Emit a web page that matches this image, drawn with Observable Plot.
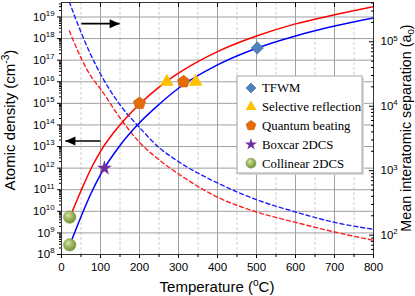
<!DOCTYPE html>
<html><head><meta charset="utf-8">
<script src="https://cdn.jsdelivr.net/npm/d3@7"></script>
<script src="https://cdn.jsdelivr.net/npm/@observablehq/plot@0.6"></script>
<style>html,body{margin:0;padding:0;background:#fff}#chart{width:415px;height:296px;overflow:hidden}</style>
</head><body><div id="chart"></div>
<script>
// ---- data ----
const temperature = [20, 50, 75, 100, 150, 200, 250, 300, 400, 500, 600, 700, 800];
const densityRed  = [4.47e9, 8.9e10, 8.9e11, 6.0e12, 1.0e14, 9.1e14, 5.6e15, 2.5e16, 2.5e17, 1.32e18, 4.8e18, 1.26e19, 3.0e19];
const densityBlue = [2.4e8, 5.6e9, 6.3e10, 5.0e11, 1.12e13, 1.26e14, 8.9e14, 5.0e15, 6.0e16, 3.55e17, 1.32e18, 3.8e18, 9.1e18];
const separationRed  = [1.48e5, 5.62e4, 2.95e4, 1.86e4, 6.6e3, 2.75e3, 1.48e3, 891, 389, 229, 158, 112, 83];
const separationBlue = [4.17e5, 1.41e5, 6.3e4, 3.16e4, 1.05e4, 4.68e3, 2.29e3, 1.38e3, 646, 355, 229, 158, 123];

const tfwmT = [502], tfwmN = [3.7e17];
const selectiveT = [270, 344], selectiveN = [1e16, 1e16];
const quantumT = [200, 313], quantumN = [1e15, 1e16];
const boxcarT = [110], boxcarN = [1e12];
const collinearT = [21, 21], collinearN = [5.4e9, 2.8e8];

const legendLabels = ["TFWM", "Selective reflection", "Quantum beating", "Boxcar 2DCS", "Collinear 2DCS"];
const titleLeft = "Atomic density (cm^{-3})";
const titleRight = "Mean interatomic separation (a_{0})";
const titleBottom = "Temperature (^{o}C)";

const xTicks = [0, 100, 200, 300, 400, 500, 600, 700, 800];
const xMinorTicks = [50, 150, 250, 350, 450, 550, 650, 750];
const leftExponents = [8, 9, 10, 11, 12, 13, 14, 15, 16, 17, 18, 19];
const rightExponents = [2, 3, 4, 5];

const yDomain = [1e8, 4.68e19];
const rightDomain = [50.1, 4.07e5];

// arrows (annotation): right-pointing (to right axis) and left-pointing (to left axis)
const arrowRight = {from: 51, to: 149, y: 4.9e18};
const arrowLeft = {from: 100, to: 10, y: 1.8e13};

// ---- helpers ----
const L0 = Math.log10(yDomain[0]), L1 = Math.log10(yDomain[1]);
const R0 = Math.log10(rightDomain[0]), R1 = Math.log10(rightDomain[1]);
const toLeft = s => 10 ** (L0 + (Math.log10(s) - R0) * (L1 - L0) / (R1 - R0));

const pentagon = {draw(ctx, size) {
  const R = Math.sqrt(size / 2.378);
  for (let k = 0; k < 5; k++) {
    const a = -Math.PI / 2 + k * 2 * Math.PI / 5;
    const px = R * Math.cos(a), py = R * Math.sin(a);
    k ? ctx.lineTo(px, py) : ctx.moveTo(px, py);
  }
  ctx.closePath();
}};
const headRight = {draw(ctx) { ctx.moveTo(0, 0); ctx.lineTo(-10, -4.5); ctx.lineTo(-10, 4.5); ctx.closePath(); }};
const headLeft = {draw(ctx) { ctx.moveTo(0, 0); ctx.lineTo(10, -4.5); ctx.lineTo(10, 4.5); ctx.closePath(); }};

const series = [
  {T: tfwmT, N: tfwmN, symbol: d3.symbolDiamond2, fill: "#4F81BD", stroke: "#3c6aa3", r: 5.6},
  {T: selectiveT, N: selectiveN, symbol: d3.symbolTriangle, fill: "#FFC000", stroke: "none", r: 5.1},
  {T: quantumT, N: quantumN, symbol: pentagon, fill: "#E36C09", stroke: "#c85e08", r: 5.6},
  {T: boxcarT, N: boxcarN, symbol: d3.symbolStar, fill: "#7030A0", stroke: "none", r: 4.7},
  {T: collinearT, N: collinearN, symbol: d3.symbolCircle, fill: "url(#greenGrad)", stroke: "#7a9540", r: 6.2}
];

const sup = n => "10^{" + n + "}";
const table = (xs, ys, f = v => v) => xs.map((t, i) => ({t, v: f(ys[i])}));

const defsMark = () => {
  const g = d3.create("svg:g");
  const defs = g.append("defs");
  const rg = defs.append("radialGradient").attr("id", "greenGrad").attr("cx", "38%").attr("cy", "35%").attr("r", "70%");
  rg.append("stop").attr("offset", "0%").attr("stop-color", "#d6e3b8");
  rg.append("stop").attr("offset", "45%").attr("stop-color", "#9fbb5e");
  rg.append("stop").attr("offset", "100%").attr("stop-color", "#718c38");
  return g.node();
};

const legendMark = () => {
  const g = d3.create("svg:g");
  const bx = 237, by = 76, bw = 125, bh = 97;
  g.append("rect").attr("x", bx + 2).attr("y", by + 2).attr("width", bw).attr("height", bh).attr("fill", "#d9d9d9");
  g.append("rect").attr("x", bx).attr("y", by).attr("width", bw).attr("height", bh).attr("fill", "white").attr("stroke", "#a6a6a6").attr("stroke-width", 1);
  series.forEach((s, i) => {
    const cy = 88 + i * 18.8;
    g.append("path").attr("transform", `translate(251,${cy})`)
      .attr("d", d3.symbol(s.symbol, Math.PI * (s.r * 0.8) ** 2)())
      .attr("fill", s.fill).attr("stroke", s.stroke).attr("stroke-width", 0.6);
    g.append("text").attr("x", 262).attr("y", cy).attr("dy", "0.35em")
      .style("text-anchor", "start")
      .style("font-family", "'Liberation Serif', 'Times New Roman', 'DejaVu Serif', serif")
      .style("font-size", "12.8px")
      .attr("fill", "black").text(legendLabels[i]);
  });
  return g.node();
};

const titlesMark = () => {
  const g = d3.create("svg:g").style("font-family", "'Liberation Sans', Arial, sans-serif").style("text-anchor", "middle").attr("fill", "black");
  g.append("text").attr("transform", "translate(10,120) rotate(-90)").attr("dy", "0.35em").style("font-size", "15px").text(titleLeft);
  g.append("text").attr("transform", "translate(406,128) rotate(-90)").attr("dy", "0.35em").style("font-size", "14.3px").text(titleRight);
  g.append("text").attr("transform", "translate(217,287)").attr("dy", "0.35em").style("font-size", "15px").text(titleBottom);
  return g.node();
};

const marks = [
  defsMark,
  Plot.gridX(xMinorTicks, {stroke: "#cfcfcf", strokeOpacity: 1, strokeDasharray: "3,2"}),
  Plot.gridX(xTicks, {stroke: "#a0a0a0", strokeOpacity: 1}),
  Plot.gridY(leftExponents.map(e => 10 ** e), {stroke: "#a0a0a0", strokeOpacity: 1}),
  Plot.line(table(temperature, separationRed, toLeft), {x: "t", y: "v", stroke: "#ff2020", strokeWidth: 1.4, strokeDasharray: "4,3", curve: "monotone-x", clip: true}),
  Plot.line(table(temperature, separationBlue, toLeft), {x: "t", y: "v", stroke: "#2020ff", strokeWidth: 1.4, strokeDasharray: "4,3", curve: "monotone-x", clip: true}),
  Plot.line(table(temperature, densityRed), {x: "t", y: "v", stroke: "#ff0000", strokeWidth: 1.5, curve: "monotone-x", clip: true}),
  Plot.line(table(temperature, densityBlue), {x: "t", y: "v", stroke: "#0000ff", strokeWidth: 1.5, curve: "monotone-x", clip: true}),
  Plot.frame({stroke: "#333"}),
  // left axis
  Plot.axisY(leftExponents.map(e => 10 ** e), {anchor: "left", tickSize: 4, tickPadding: 3, tickFormat: d => sup(Math.round(Math.log10(d)))}),
  Plot.axisY(leftExponents.slice(0, -1).flatMap(e => d3.range(2, 10).map(k => k * 10 ** e)).concat([2e19, 3e19, 4e19]), {anchor: "left", tickSize: 2, tickFormat: () => ""}),
  // right axis (separation, mapped onto left scale)
  Plot.text(rightExponents, {y: e => toLeft(10 ** e), text: e => sup(e), frameAnchor: "right", dx: 7, textAnchor: "start"}),
  Plot.axisY(rightExponents.map(e => toLeft(10 ** e)), {anchor: "right", tickSize: 5, dx: -5, tickFormat: () => ""}),
  Plot.axisY([60, 70, 80, 90].concat(...[2, 3, 4].map(e => d3.range(2, 10).map(k => k * 10 ** e)), [2e5, 3e5, 4e5]).map(toLeft), {anchor: "right", tickSize: 3, dx: -3, tickFormat: () => ""}),
  // x axis
  Plot.axisX(xTicks, {anchor: "bottom", tickSize: 4, tickPadding: 4}),
  Plot.axisX(xMinorTicks, {anchor: "bottom", tickSize: 3, tickFormat: () => ""}),
  Plot.axisX(xTicks, {anchor: "top", tickSize: 4, dy: 4, tickFormat: () => ""}),
  titlesMark,
  // arrows
  Plot.link([arrowRight, arrowLeft], {x1: "from", x2: "to", y1: "y", y2: "y", stroke: "black", strokeWidth: 1.6}),
  Plot.dot([arrowRight], {x: "to", y: "y", symbol: headRight, fill: "black", stroke: "none"}),
  Plot.dot([arrowLeft], {x: "to", y: "y", symbol: headLeft, fill: "black", stroke: "none"}),
  // markers
  ...series.map(s => Plot.dot(table(s.T, s.N), {x: "t", y: "v", symbol: s.symbol, r: s.r, fill: s.fill, stroke: s.stroke, strokeWidth: 0.6})),
  legendMark
];

const chart = Plot.plot({
  width: 415, height: 296,
  marginLeft: 61, marginRight: 42, marginTop: 2, marginBottom: 42,
  style: {fontFamily: "'Liberation Sans', Arial, sans-serif", fontSize: "11.5px", background: "white", color: "black"},
  x: {domain: [0, 800]},
  y: {type: "log", domain: yDomain},
  marks
});

// rich text: ^{..} superscript, _{..} subscript
chart.querySelectorAll("text").forEach(t => {
  const s = t.textContent;
  if (!/[\^_]\{/.test(s)) return;
  const parts = s.split(/([\^_]\{[^}]*\})/).filter(p => p !== "");
  t.textContent = "";
  let shifted = 0;
  for (const p of parts) {
    const ts = document.createElementNS("http://www.w3.org/2000/svg", "tspan");
    const m = p.match(/^([\^_])\{([^}]*)\}$/);
    if (m) {
      ts.textContent = m[2];
      ts.setAttribute("font-size", "68%");
      const up = m[1] === "^" ? -0.62 : 0.35;
      ts.setAttribute("dy", up + "em");
      shifted = up * 0.68;
    } else {
      ts.textContent = p;
      if (shifted) ts.setAttribute("dy", (-shifted) + "em");
      shifted = 0;
    }
    t.appendChild(ts);
  }
});

document.getElementById("chart").appendChild(chart);
</script>
</body></html>
